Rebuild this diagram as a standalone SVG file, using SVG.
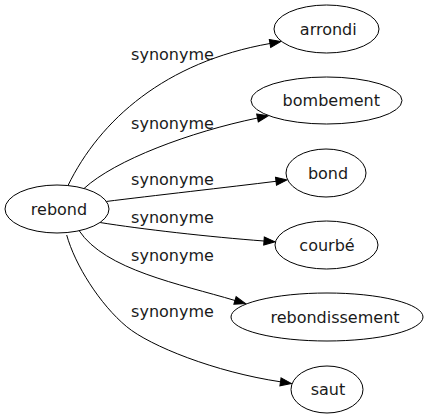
<svg xmlns="http://www.w3.org/2000/svg" width="427" height="419" viewBox="0 0 427 419">
<style>
  .node ellipse { fill: #ffffff; stroke: #000000; stroke-width: 1; }
  .node text { font-family: "DejaVu Sans", sans-serif; font-size: 16px; fill: #1a1a1a; text-anchor: middle; }
  .edges path { fill: none; stroke: #000000; stroke-width: 1; }
  .edges text { font-family: "DejaVu Sans", sans-serif; font-size: 16px; fill: #1a1a1a; text-anchor: middle; }
</style>
<defs>
  <marker id="arrow" markerUnits="userSpaceOnUse" markerWidth="13" markerHeight="10" refX="0" refY="4" orient="auto" overflow="visible">
    <path d="M0,0 L11,4 L0,8 Z" fill="#000000" stroke="#000000" stroke-width="1"/>
  </marker>
</defs>
<rect x="0" y="0" width="427" height="419" fill="#ffffff"/>
<g id="connectors" class="edges">
  <path d="M68,185.5 C100,120 165,62 270,43.5" marker-end="url(#arrow)"/>
  <text x="172.5" y="59.5">synonyme</text>
  <path d="M84,188.5 C115,160 190,132 257.5,118" marker-end="url(#arrow)"/>
  <text x="172.5" y="129.3">synonyme</text>
  <path d="M106,201.5 C150,196 230,187 276,181.3" marker-end="url(#arrow)"/>
  <text x="172.5" y="185">synonyme</text>
  <path d="M100,222.5 C140,229 210,237 264,241" marker-end="url(#arrow)"/>
  <text x="172.5" y="223.3">synonyme</text>
  <path d="M79,230.5 C105,270 180,284 235,300.5" marker-end="url(#arrow)"/>
  <text x="172.5" y="261">synonyme</text>
  <path d="M66.7,235 C75,265 100,304.5 126.7,326.7 C150,346 215,372 280.5,381.8" marker-end="url(#arrow)"/>
  <text x="172.5" y="317.3">synonyme</text>
</g>
<g id="node-rebond" class="node">
  <ellipse cx="57" cy="209" rx="52" ry="24"/>
  <text x="59" y="215">rebond</text>
</g>
<g id="node-arrondi" class="node">
  <ellipse cx="326.5" cy="29" rx="52.5" ry="24"/>
  <text x="328.3" y="34.8">arrondi</text>
</g>
<g id="node-bombement" class="node">
  <ellipse cx="326.5" cy="100.5" rx="75.5" ry="23.5"/>
  <text x="331.3" y="106">bombement</text>
</g>
<g id="node-bond" class="node">
  <ellipse cx="326" cy="173" rx="40" ry="24"/>
  <text x="328" y="178.8">bond</text>
</g>
<g id="node-courbe" class="node">
  <ellipse cx="326.5" cy="245" rx="51.5" ry="24"/>
  <text x="327" y="250.8">courbé</text>
</g>
<g id="node-rebondissement" class="node">
  <ellipse cx="327" cy="317" rx="96" ry="24"/>
  <text x="335" y="322.8">rebondissement</text>
</g>
<g id="node-saut" class="node">
  <ellipse cx="327" cy="389.5" rx="36" ry="23.5"/>
  <text x="328" y="395.3">saut</text>
</g>
</svg>
